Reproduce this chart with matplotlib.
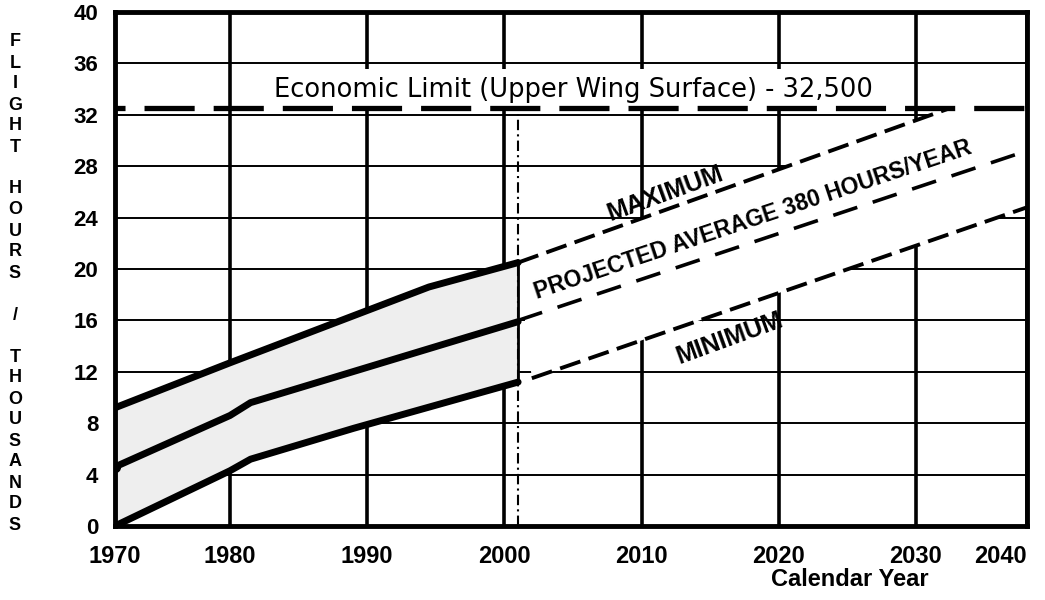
import numpy as np
import matplotlib
matplotlib.use('Agg')
import matplotlib.pyplot as plt
from matplotlib.patches import Rectangle

plt.rcParams['font.family'] = ['Liberation Sans', 'DejaVu Sans']

# flight hours (thousands) - recorded fleet band
hist_max_years = [1970, 1980, 1994.5, 2001]
hist_max = [9.2, 12.7, 18.6, 20.5]
hist_avg_years = [1970, 1980, 1981.5, 2001]
hist_avg = [4.6, 8.6, 9.6, 15.9]
hist_min_years = [1970, 1980, 1981.5, 1989, 2001]
hist_min = [0.0, 4.3, 5.2, 7.6, 11.2]

# projections
proj_max_years = [2001, 2033]
proj_max = [20.5, 32.5]
proj_avg_years = [2001, 2040]
proj_avg = [16.0, 29.2]
proj_min_years = [2002, 2040]
proj_min = [11.5, 24.8]

econ_limit = 32.5
x_ticks = [1970, 1980, 1990, 2000, 2010, 2020, 2030, 2040]
y_ticks = [0, 4, 8, 12, 16, 20, 24, 28, 32, 36, 40]

# the original year axis is hand drawn: first and last decade are narrower
axis_years = [1970, 1980, 2030, 2040]
axis_pos = [0, 115, 801, 912]

def fwd(x):
    return np.interp(x, axis_years, axis_pos)

def inv(p):
    return np.interp(p, axis_pos, axis_years)

fig = plt.figure(figsize=(10.45, 6), dpi=100)
ax = fig.add_axes([115/1045, 74/600, 912/1045, 514/600])
ax.set_xscale('function', functions=(fwd, inv))
ax.set_xlim(x_ticks[0], x_ticks[-1])
ax.set_ylim(0, 40)

ax.set_xticks(x_ticks)
ax.set_yticks(y_ticks)
ax.xaxis.grid(True, color='black', lw=2.6)
ax.yaxis.grid(True, color='black', lw=1.4)
ax.tick_params(length=0, labelsize=16)
ax.tick_params(axis='x', pad=14, labelsize=17)
ax.tick_params(axis='y', pad=12)
for lab in ax.get_xticklabels() + ax.get_yticklabels():
    lab.set_fontweight('bold')
ax.get_xticklabels()[-1].set_ha('right')
for s in ax.spines.values():
    s.set_linewidth(3.5)
    s.set_zorder(6)
# grid must sit under the bands
ax.xaxis.set_zorder(0.5)
ax.yaxis.set_zorder(0.5)

# recorded band (speckled grey) and projected band (white)
ax.fill(np.r_[hist_max_years, hist_min_years[::-1]], np.r_[hist_max, hist_min[::-1]],
        facecolor='#eeeeee', edgecolor='none', zorder=2)
ax.fill(np.r_[proj_max_years, x_ticks[-1], proj_min_years[::-1]],
        np.r_[proj_max, econ_limit, proj_min[::-1]], facecolor='white', edgecolor='none', zorder=2)

# white box behind the economic limit label
ax.add_patch(Rectangle((1981, 32.4), 48, 3.2, facecolor='white', edgecolor='none', zorder=2))

ax.plot(hist_max_years, hist_max, color='black', lw=5, solid_capstyle='round', zorder=3)
ax.plot(hist_avg_years, hist_avg, color='black', lw=5, solid_capstyle='round',
        marker='o', markevery=[0], ms=7, zorder=3)
ax.plot(hist_min_years, hist_min, color='black', lw=5, solid_capstyle='round', zorder=3)
ax.vlines(hist_max_years[-1], hist_min[-1], hist_max[-1], color='black', lw=2, zorder=3)
ax.vlines(hist_max_years[-1], 0, 32.1, color='black', lw=1.5,
          linestyles=(0, (5, 2, 1, 2)), zorder=3)

ax.plot(proj_max_years, proj_max, color='black', lw=2.8, dashes=(5.5, 2.2), zorder=3)
ax.plot(proj_avg_years, proj_avg, color='black', lw=2.6, dashes=(7, 4.5), zorder=3)
ax.plot(proj_min_years, proj_min, color='black', lw=2.8, dashes=(5.5, 2.2), zorder=3)

ax.axhline(econ_limit, color='black', lw=3.8, ls=(7.6, (9.5, 3.6)), dash_capstyle='butt', zorder=4)
ax.text(2005, 33.9, 'Economic Limit (Upper Wing Surface) - 32,500', family='DejaVu Sans',
        fontsize=18.5, ha='center', va='center', zorder=5)

ax.text(2011.7, 25.9, 'MAXIMUM', fontsize=18, fontweight='bold', rotation=20,
        rotation_mode='anchor', ha='center', va='center', zorder=5)
ax.text(2018.1, 23.8, 'PROJECTED AVERAGE 380 HOURS/YEAR', fontsize=16.5, fontweight='bold',
        rotation=18.5, rotation_mode='anchor', ha='center', va='center', zorder=5)
ax.text(2016.4, 14.6, 'MINIMUM', fontsize=18, fontweight='bold', rotation=20,
        rotation_mode='anchor', ha='center', va='center', zorder=5)

# stacked vertical axis title
ylabel = 'FLIGHT HOURS / THOUSANDS'
for i, ch in enumerate(ylabel):
    fig.text(15/1045, 1 - (42 + 21*i)/600, ch, fontsize=13, fontweight='bold',
             ha='center', va='center')

fig.text(850/1045, 1 - 580/600, 'Calendar Year', fontsize=17, fontweight='bold',
         ha='center', va='center')

fig.savefig('out.png', dpi=100)
